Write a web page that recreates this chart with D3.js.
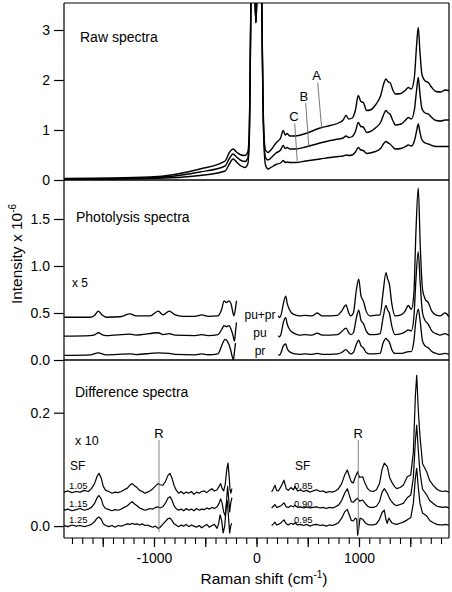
<!DOCTYPE html>
<html><head><meta charset="utf-8">
<script src="https://cdn.jsdelivr.net/npm/d3@7"></script>
<style>
body{margin:0;background:#fff}
svg{display:block}
text{font-family:"Liberation Sans",Arial,Helvetica,sans-serif;fill:#000}
</style>
</head><body>
<svg id="chart" width="452" height="592"></svg>
<script>
// ---------- DATA (Raman shift in cm-1, intensity in units of 1e-6) ----------
const rawA = [[-1878,0.03],[-1039,0.06],[-551,0.22],[-307,0.38],[-265,0.55],[-229,0.62],[-190,0.55],[-150,0.5],[-112,0.49],[-85,0.56],[-70,1.0],[-63,2.0],[-55,3.6],[-45,4.5],[-22,4.5],[-14,3.6],[-6,3.15],[2,3.6],[8,4.5],[45,4.5],[55,3.0],[64,1.6],[73,0.9],[88,0.6],[112,0.55],[140,0.6],[190,0.74],[235,0.84],[261,0.99],[280,0.9],[298,0.93],[327,0.88],[380,0.88],[480,0.93],[620,1.04],[720,1.09],[800,1.14],[845,1.2],[873,1.29],[900,1.22],[935,1.24],[965,1.4],[993,1.69],[1018,1.57],[1042,1.55],[1075,1.39],[1110,1.4],[1160,1.5],[1210,1.68],[1245,1.95],[1263,2.02],[1285,1.96],[1302,1.95],[1330,1.8],[1355,1.72],[1410,1.73],[1455,1.8],[1481,1.85],[1510,1.82],[1540,2.05],[1562,2.7],[1578,3.05],[1595,2.55],[1615,2.1],[1645,1.98],[1676,1.95],[1710,1.85],[1750,1.77],[1800,1.76],[1840,1.8],[1878,1.79]];
const rawB = [[-1878,0.02],[-1039,0.045],[-551,0.16],[-307,0.28],[-265,0.43],[-229,0.52],[-190,0.45],[-150,0.39],[-112,0.37],[-85,0.44],[-70,0.9],[-63,1.9],[-55,3.5],[-45,4.5],[-22,4.5],[-14,3.6],[-6,3.15],[2,3.6],[8,4.5],[45,4.5],[55,2.9],[64,1.5],[73,0.8],[88,0.45],[112,0.4],[140,0.44],[190,0.54],[235,0.6],[261,0.69],[280,0.63],[298,0.65],[327,0.62],[380,0.62],[480,0.66],[620,0.74],[720,0.79],[800,0.82],[845,0.84],[873,0.88],[900,0.85],[935,0.87],[965,0.97],[993,1.15],[1018,1.07],[1042,1.06],[1075,0.95],[1110,0.97],[1160,1.04],[1210,1.15],[1245,1.33],[1263,1.39],[1285,1.34],[1302,1.32],[1330,1.19],[1355,1.1],[1410,1.12],[1455,1.2],[1481,1.25],[1510,1.22],[1540,1.4],[1562,1.8],[1578,2.05],[1595,1.72],[1615,1.42],[1645,1.34],[1676,1.32],[1710,1.25],[1750,1.19],[1800,1.18],[1840,1.2],[1878,1.2]];
const rawC = [[-1878,0.01],[-1039,0.03],[-551,0.09],[-307,0.18],[-265,0.32],[-229,0.42],[-190,0.35],[-150,0.28],[-112,0.25],[-85,0.32],[-70,0.8],[-63,1.8],[-55,3.4],[-45,4.5],[-22,4.5],[-14,3.6],[-6,3.15],[2,3.6],[8,4.5],[45,4.5],[55,2.8],[64,1.4],[73,0.7],[88,0.3],[112,0.22],[140,0.25],[190,0.31],[235,0.34],[261,0.39],[280,0.35],[298,0.36],[327,0.35],[380,0.35],[480,0.38],[620,0.42],[720,0.45],[800,0.47],[845,0.48],[873,0.5],[900,0.49],[935,0.5],[965,0.56],[993,0.65],[1018,0.6],[1042,0.59],[1075,0.53],[1110,0.54],[1160,0.57],[1210,0.63],[1245,0.74],[1263,0.77],[1285,0.74],[1302,0.72],[1330,0.66],[1355,0.62],[1410,0.63],[1455,0.67],[1481,0.7],[1510,0.68],[1540,0.78],[1562,0.98],[1578,1.12],[1595,0.95],[1615,0.8],[1645,0.74],[1676,0.72],[1710,0.69],[1750,0.67],[1800,0.67],[1840,0.67],[1878,0.67]];

// Photolysis spectra (x5), left and right of the notch
const puprLeft = [[-1878,0.455],[-1624,0.455],[-1576,0.48],[-1543,0.52],[-1507,0.48],[-1468,0.455],[-1332,0.46],[-1234,0.49],[-1176,0.47],[-1039,0.47],[-958,0.52],[-912,0.48],[-851,0.52],[-795,0.48],[-717,0.465],[-600,0.465],[-535,0.48],[-473,0.465],[-376,0.47],[-337,0.55],[-317,0.63],[-293,0.61],[-268,0.63],[-249,0.6],[-229,0.5],[-220,0.47],[-205,0.55],[-195,0.63]];
const puLeft = [[-1878,0.255],[-1624,0.26],[-1576,0.27],[-1543,0.29],[-1507,0.27],[-1468,0.26],[-1234,0.275],[-1176,0.265],[-958,0.29],[-912,0.27],[-851,0.28],[-795,0.265],[-600,0.26],[-535,0.27],[-473,0.26],[-376,0.27],[-337,0.33],[-317,0.365],[-293,0.355],[-268,0.365],[-249,0.33],[-229,0.26],[-215,0.2],[-205,0.3],[-195,0.4]];
const prLeft = [[-1878,0.05],[-1624,0.055],[-1543,0.075],[-1468,0.055],[-1234,0.065],[-1176,0.058],[-958,0.075],[-851,0.07],[-795,0.06],[-600,0.055],[-535,0.065],[-473,0.056],[-376,0.065],[-337,0.16],[-307,0.22],[-285,0.2],[-255,0.12],[-235,0.03],[-225,0.0],[-215,0.09],[-205,0.18]];
const puprRight = [[213,0.47],[225,0.45],[240,0.48],[262,0.6],[285,0.68],[300,0.6],[320,0.54],[343,0.5],[376,0.48],[420,0.47],[470,0.475],[540,0.47],[593,0.5],[640,0.47],[720,0.47],[790,0.475],[830,0.52],[873,0.585],[900,0.5],[920,0.47],[945,0.5],[975,0.75],[997,0.86],[1020,0.68],[1042,0.63],[1070,0.52],[1107,0.47],[1150,0.475],[1205,0.48],[1235,0.72],[1263,0.93],[1280,0.86],[1296,0.81],[1320,0.6],[1351,0.47],[1410,0.48],[1450,0.52],[1481,0.58],[1510,0.54],[1535,0.7],[1555,1.35],[1578,1.83],[1598,1.2],[1620,0.75],[1645,0.65],[1676,0.61],[1710,0.52],[1750,0.48],[1790,0.47],[1839,0.5],[1878,0.46]];
const puRight = [[213,0.26],[225,0.245],[240,0.28],[262,0.4],[285,0.45],[300,0.38],[320,0.33],[343,0.3],[376,0.28],[420,0.265],[470,0.27],[540,0.265],[593,0.285],[640,0.265],[720,0.265],[790,0.27],[830,0.3],[873,0.34],[900,0.29],[920,0.27],[945,0.29],[975,0.45],[997,0.53],[1020,0.42],[1042,0.39],[1070,0.31],[1107,0.27],[1150,0.27],[1205,0.28],[1235,0.45],[1263,0.58],[1280,0.53],[1296,0.5],[1320,0.36],[1351,0.27],[1410,0.28],[1450,0.3],[1481,0.32],[1510,0.31],[1535,0.45],[1555,0.85],[1578,1.15],[1598,0.8],[1620,0.5],[1645,0.42],[1676,0.38],[1710,0.31],[1750,0.28],[1790,0.265],[1839,0.28],[1878,0.26]];
const prRight = [[213,0.06],[225,0.05],[240,0.08],[262,0.15],[285,0.17],[300,0.12],[320,0.09],[343,0.075],[376,0.065],[420,0.06],[470,0.065],[540,0.06],[593,0.07],[640,0.06],[720,0.06],[790,0.065],[830,0.08],[873,0.11],[900,0.08],[920,0.065],[945,0.08],[975,0.17],[997,0.21],[1020,0.15],[1042,0.13],[1070,0.08],[1107,0.065],[1150,0.065],[1205,0.07],[1235,0.18],[1263,0.23],[1280,0.21],[1296,0.19],[1320,0.11],[1351,0.07],[1410,0.07],[1450,0.08],[1481,0.09],[1510,0.09],[1535,0.2],[1555,0.42],[1578,0.54],[1598,0.4],[1620,0.2],[1645,0.15],[1676,0.13],[1710,0.09],[1750,0.07],[1790,0.06],[1839,0.07],[1878,0.06]];

// Difference spectra (x10), scale factors SF
const diff105 = [[-1878,0.060],[-1840,0.062],[-1800,0.059],[-1760,0.061],[-1720,0.060],[-1680,0.063],[-1640,0.061],[-1610,0.066],[-1580,0.075],[-1555,0.088],[-1537,0.093],[-1515,0.085],[-1495,0.07],[-1471,0.063],[-1440,0.061],[-1410,0.058],[-1380,0.060],[-1350,0.059],[-1320,0.061],[-1290,0.064],[-1260,0.067],[-1230,0.073],[-1212,0.075],[-1190,0.071],[-1165,0.068],[-1140,0.063],[-1115,0.061],[-1090,0.058],[-1065,0.060],[-1040,0.062],[-1010,0.066],[-985,0.071],[-960,0.075],[-940,0.073],[-915,0.072],[-890,0.078],[-865,0.089],[-844,0.093],[-825,0.085],[-805,0.072],[-785,0.064],[-760,0.058],[-735,0.061],[-710,0.057],[-685,0.060],[-660,0.058],[-635,0.061],[-610,0.056],[-585,0.060],[-560,0.058],[-535,0.061],[-510,0.062],[-485,0.059],[-460,0.063],[-435,0.066],[-410,0.062],[-385,0.064],[-365,0.07],[-350,0.075],[-335,0.066],[-320,0.062],[-305,0.074],[-290,0.1],[-278,0.111],[-268,0.09],[-258,0.064],[-250,0.058],[-240,0.066]];
const diff115 = [[-1878,0.028],[-1840,0.030],[-1800,0.027],[-1760,0.029],[-1720,0.031],[-1680,0.028],[-1640,0.030],[-1610,0.033],[-1580,0.040],[-1555,0.050],[-1537,0.054],[-1515,0.048],[-1495,0.036],[-1471,0.031],[-1440,0.029],[-1410,0.027],[-1380,0.029],[-1350,0.028],[-1320,0.030],[-1290,0.033],[-1260,0.036],[-1230,0.041],[-1212,0.043],[-1190,0.039],[-1165,0.036],[-1140,0.032],[-1115,0.030],[-1090,0.028],[-1065,0.029],[-1040,0.031],[-1010,0.030],[-985,0.033],[-960,0.034],[-940,0.032],[-915,0.034],[-890,0.040],[-865,0.049],[-844,0.052],[-825,0.046],[-805,0.036],[-785,0.031],[-760,0.028],[-735,0.030],[-710,0.027],[-685,0.031],[-660,0.028],[-635,0.030],[-610,0.027],[-585,0.031],[-560,0.028],[-535,0.030],[-510,0.029],[-485,0.032],[-460,0.030],[-435,0.033],[-410,0.031],[-385,0.034],[-365,0.040],[-350,0.048],[-335,0.040],[-320,0.025],[-305,0.018],[-292,0.045],[-282,0.07],[-272,0.05],[-262,0.025],[-252,0.04],[-240,0.05]];
const diff125 = [[-1878,0.001],[-1840,-0.001],[-1800,0.002],[-1760,0.000],[-1720,0.001],[-1680,-0.001],[-1640,0.001],[-1610,0.003],[-1580,0.008],[-1555,0.014],[-1537,0.016],[-1515,0.012],[-1495,0.004],[-1471,0.001],[-1440,-0.001],[-1410,0.001],[-1380,-0.002],[-1350,0.001],[-1320,0.000],[-1290,0.002],[-1260,0.004],[-1230,0.003],[-1212,0.005],[-1190,0.003],[-1165,0.004],[-1140,0.002],[-1115,0.004],[-1090,0.001],[-1065,0.002],[-1040,0.000],[-1010,-0.002],[-985,0.000],[-960,-0.004],[-940,-0.002],[-915,0.003],[-890,0.008],[-865,0.013],[-844,0.014],[-825,0.010],[-805,0.004],[-785,0.002],[-760,-0.001],[-735,0.002],[-710,0.000],[-685,0.003],[-660,-0.001],[-635,0.002],[-610,0.000],[-585,-0.002],[-560,0.001],[-535,-0.003],[-510,0.000],[-485,0.003],[-460,-0.002],[-435,0.001],[-410,0.003],[-385,-0.004],[-370,0.004],[-355,0.02],[-340,0.01],[-325,-0.012],[-310,0.0],[-295,0.035],[-285,0.045],[-275,0.02],[-262,-0.012],[-252,0.0],[-242,0.005]];
const diff085 = [[148,0.060],[165,0.066],[180,0.072],[196,0.063],[213,0.062],[240,0.07],[268,0.081],[290,0.066],[310,0.063],[335,0.068],[360,0.064],[376,0.07],[400,0.062],[430,0.064],[460,0.061],[490,0.063],[520,0.060],[550,0.062],[587,0.064],[620,0.061],[650,0.062],[680,0.059],[710,0.061],[740,0.060],[770,0.062],[800,0.066],[831,0.075],[860,0.09],[886,0.099],[905,0.088],[925,0.078],[944,0.076],[965,0.087],[987,0.096],[1005,0.086],[1036,0.087],[1060,0.075],[1085,0.066],[1107,0.062],[1140,0.061],[1170,0.064],[1200,0.075],[1225,0.1],[1247,0.111],[1276,0.105],[1300,0.085],[1319,0.078],[1345,0.07],[1368,0.066],[1400,0.068],[1432,0.072],[1471,0.087],[1505,0.09],[1530,0.13],[1550,0.23],[1563,0.266],[1580,0.2],[1595,0.158],[1620,0.11],[1660,0.096],[1690,0.08],[1725,0.072],[1760,0.065],[1790,0.062],[1820,0.061],[1850,0.062],[1878,0.060]];
const diff090 = [[148,0.032],[165,0.035],[180,0.038],[196,0.033],[213,0.034],[240,0.036],[268,0.041],[290,0.034],[310,0.033],[335,0.036],[360,0.034],[376,0.037],[400,0.033],[430,0.034],[460,0.032],[490,0.034],[520,0.032],[550,0.033],[587,0.034],[620,0.032],[650,0.033],[680,0.031],[710,0.033],[740,0.032],[770,0.034],[800,0.037],[831,0.045],[860,0.058],[886,0.066],[905,0.055],[925,0.043],[944,0.042],[965,0.046],[987,0.049],[1005,0.044],[1036,0.046],[1060,0.04],[1085,0.035],[1107,0.033],[1140,0.033],[1170,0.035],[1200,0.043],[1225,0.06],[1247,0.066],[1276,0.058],[1300,0.048],[1319,0.043],[1345,0.038],[1368,0.036],[1400,0.038],[1432,0.04],[1471,0.05],[1505,0.055],[1530,0.085],[1550,0.15],[1563,0.178],[1580,0.13],[1595,0.095],[1620,0.065],[1660,0.055],[1690,0.045],[1725,0.04],[1760,0.035],[1790,0.034],[1820,0.033],[1850,0.034],[1878,0.032]];
const diff095 = [[148,0.001],[165,0.004],[180,0.007],[196,0.002],[213,0.003],[240,0.006],[268,0.011],[290,0.004],[310,0.002],[335,0.005],[360,0.003],[376,0.006],[400,0.002],[430,0.003],[460,0.001],[490,0.003],[520,0.000],[550,0.002],[587,0.003],[620,0.001],[650,0.002],[680,0.000],[710,0.002],[740,0.001],[770,0.003],[800,0.006],[831,0.014],[860,0.025],[886,0.0295],[905,0.02],[925,0.01],[944,0.009],[965,0.014],[978,0.012],[987,-0.016],[997,-0.005],[1010,0.014],[1036,0.012],[1060,0.006],[1085,0.003],[1107,0.002],[1140,0.002],[1170,0.004],[1200,0.012],[1225,0.024],[1247,0.028],[1262,0.012],[1276,0.005],[1290,0.014],[1305,0.01],[1319,0.006],[1345,0.004],[1368,0.003],[1400,0.005],[1432,0.007],[1471,0.011],[1505,0.015],[1530,0.04],[1550,0.085],[1563,0.102],[1580,0.065],[1595,0.04],[1620,0.023],[1660,0.018],[1690,0.01],[1725,0.006],[1760,0.003],[1790,0.002],[1820,0.002],[1850,0.003],[1878,0.001]];

const rawTicks = [0, 1, 2, 3];
const photoTicks = [0, 0.5, 1.0, 1.5];
const diffTicks = [0, 0.2];
const xLabelTicks = [-1000, 0, 1000];
const xMajorTicks = [-1500, -1000, -500, 0, 500, 1000, 1500];
const xMinorTicks = d3.range(-1800, 1801, 100);
const sfLeft = ["1.05", "1.15", "1.25"];
const sfRight = ["0.85", "0.90", "0.95"];
const rawLabels = ["A", "B", "C"];
const photoLabels = ["pu+pr", "pu", "pr"];

// ---------- LAYOUT ----------
const L = 64, R = 449, T = 3, B = 538;
const svg = d3.select("#chart");
const x = d3.scaleLinear().domain([-1878, 1878]).range([L, R]);
const y1 = d3.scaleLinear().domain([0, 3.54]).range([180, T]);
const y2 = d3.scaleLinear().domain([0, 1.915]).range([360, 180]);
const y3 = d3.scaleLinear().domain([-0.021, 0.293]).range([B, 360]);

const defs = svg.append("defs");
[["c1", 180, T], ["c2", 360, 180], ["c3", B, 360]].forEach(([id, b, t]) => {
  defs.append("clipPath").attr("id", id).append("rect")
    .attr("x", L).attr("y", t).attr("width", R - L).attr("height", b - t);
});

function drawLine(data, yS, clip, curve, sw) {
  const line = d3.line().x(d => x(d[0])).y(d => yS(d[1])).curve(curve);
  svg.append("path").datum(data).attr("d", line)
    .attr("fill", "none").attr("stroke", "#000").attr("stroke-width", sw)
    .attr("stroke-linejoin", "round").attr("clip-path", `url(#${clip})`);
}
const mono = d3.curveMonotoneX;
[rawA, rawB, rawC].forEach(d => drawLine(d, y1, "c1", mono, 1.4));
[puprLeft, puLeft, prLeft, puprRight, puRight, prRight].forEach(d => drawLine(d, y2, "c2", mono, 1.3));
[diff105, diff115, diff125, diff085, diff090, diff095].forEach(d => drawLine(d, y3, "c3", d3.curveLinear, 1.2));

// frame
const frame = svg.append("g").attr("stroke", "#000").attr("fill", "none");
frame.append("line").attr("x1", L).attr("x2", L).attr("y1", T).attr("y2", B).attr("stroke-width", 1.2);
frame.append("line").attr("x1", R).attr("x2", R).attr("y1", T).attr("y2", B).attr("stroke-width", 1.2);
frame.append("line").attr("x1", L).attr("x2", R).attr("y1", T).attr("y2", T).attr("stroke-width", 1.2);
frame.append("line").attr("x1", L).attr("x2", R).attr("y1", y1(0)).attr("y2", y1(0)).attr("stroke-width", 1.6);
frame.append("line").attr("x1", L).attr("x2", R).attr("y1", y2(0)).attr("y2", y2(0)).attr("stroke-width", 1.6);
frame.append("line").attr("x1", L).attr("x2", R).attr("y1", B).attr("y2", B).attr("stroke-width", 1.2);

// y axes
function yAxis(scale, ticks, fmt) {
  const g = svg.append("g").attr("transform", `translate(${L},0)`)
    .call(d3.axisLeft(scale).tickValues(ticks).tickSize(10).tickPadding(4).tickFormat(fmt));
  g.select(".domain").remove();
  g.selectAll("line").attr("stroke", "#000").attr("stroke-width", 1.2);
  g.selectAll("text").attr("font-size", 14).attr("font-family", '"Liberation Sans",Arial,sans-serif').attr("fill", "#000");
}
yAxis(y1, rawTicks, d3.format("d"));
yAxis(y2, photoTicks, d3.format(".1f"));
yAxis(y3, diffTicks, d3.format(".1f"));

// x axis
const gx = svg.append("g").attr("transform", `translate(0,${B})`);
const minor = gx.append("g").call(d3.axisBottom(x).tickValues(xMinorTicks).tickSize(6).tickFormat(""));
minor.select(".domain").remove();
minor.selectAll("line").attr("stroke", "#000").attr("stroke-width", 1.1);
const major = gx.append("g").call(d3.axisBottom(x).tickValues(xMajorTicks).tickSize(9).tickPadding(6)
  .tickFormat(d => xLabelTicks.includes(d) ? String(d) : ""));
major.select(".domain").remove();
major.selectAll("line").attr("stroke", "#000").attr("stroke-width", 1.2);
major.selectAll("text").attr("font-size", 14).attr("font-family", '"Liberation Sans",Arial,sans-serif').attr("fill", "#000");

// axis titles
const yt = svg.append("text").attr("transform", "translate(22,254) rotate(-90)")
  .attr("text-anchor", "middle").attr("font-size", 15.5);
yt.append("tspan").text("Intensity x 10");
yt.append("tspan").attr("dy", -6).attr("font-size", 10).text("-6");
const xt = svg.append("text").attr("x", 264).attr("y", 584).attr("text-anchor", "middle").attr("font-size", 15.5);
xt.append("tspan").text("Raman shift (cm");
xt.append("tspan").attr("dy", -6).attr("font-size", 10).text("-1");
xt.append("tspan").attr("dy", 6).text(")");

// panel titles
svg.append("text").attr("x", 80).attr("y", 42).attr("font-size", 14).text("Raw spectra");
svg.append("text").attr("x", 76).attr("y", 222).attr("font-size", 14).text("Photolysis spectra");
svg.append("text").attr("x", 75).attr("y", 397).attr("font-size", 14).text("Difference spectra");
svg.append("text").attr("x", 72).attr("y", 287).attr("font-size", 12).text("x 5");
svg.append("text").attr("x", 75).attr("y", 445).attr("font-size", 12.5).text("x 10");

// A, B, C labels with leader lines
const abc = [
  {t: rawLabels[0], tx: 587, ty: 2.0, x1: 597, v1: 1.95, x2: 636, v2: 1.03},
  {t: rawLabels[1], tx: 463, ty: 1.58, x1: 480, v1: 1.54, x2: 509, v2: 0.70},
  {t: rawLabels[2], tx: 366, ty: 1.19, x1: 373, v1: 1.13, x2: 398, v2: 0.37}
];
abc.forEach(o => {
  svg.append("text").attr("x", x(o.tx)).attr("y", y1(o.ty)).attr("text-anchor", "middle").attr("font-size", 13).text(o.t);
  svg.append("line").attr("x1", x(o.x1)).attr("y1", y1(o.v1)).attr("x2", x(o.x2)).attr("y2", y1(o.v2))
    .attr("stroke", "#666").attr("stroke-width", 0.9);
});

// pu+pr, pu, pr labels
[[photoLabels[0], 0.44], [photoLabels[1], 0.25], [photoLabels[2], 0.056]].forEach(([t, v]) => {
  svg.append("text").attr("x", 260).attr("y", y2(v)).attr("text-anchor", "middle").attr("font-size", 12).text(t);
});

// R markers
[[-951], [993]].forEach(([s]) => {
  svg.append("text").attr("x", x(s)).attr("y", 438).attr("text-anchor", "middle").attr("font-size", 13).text("R");
  svg.append("line").attr("x1", x(s)).attr("x2", x(s)).attr("y1", 440).attr("y2", 532)
    .attr("stroke", "#777").attr("stroke-width", 0.9);
});

// SF labels
svg.append("text").attr("x", 70).attr("y", 470).attr("font-size", 12).text("SF");
svg.append("text").attr("x", 295).attr("y", 470).attr("font-size", 12).text("SF");
const sfY = [489, 507, 523];
sfLeft.forEach((t, i) => svg.append("text").attr("x", 69).attr("y", sfY[i]).attr("font-size", 9.5).text(t));
sfRight.forEach((t, i) => svg.append("text").attr("x", 294).attr("y", sfY[i]).attr("font-size", 9.5).text(t));
</script>
</body></html>
